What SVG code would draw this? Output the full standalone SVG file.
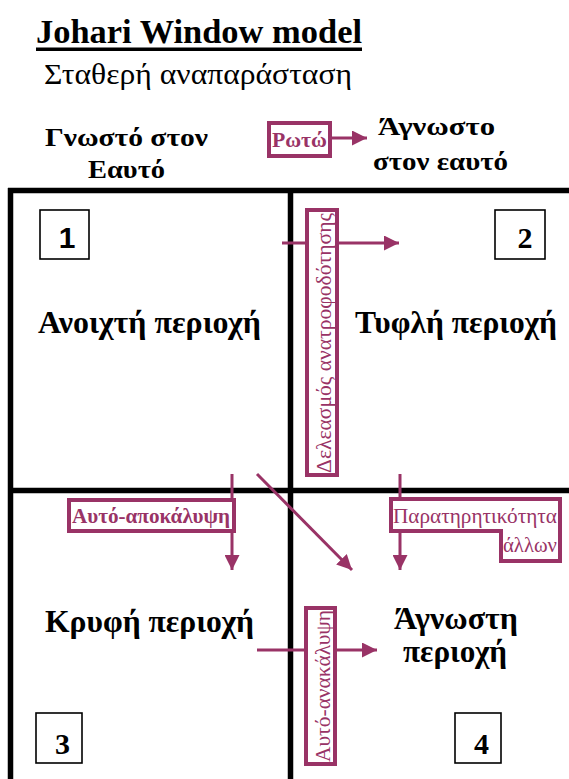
<svg xmlns="http://www.w3.org/2000/svg" width="569" height="779" viewBox="0 0 569 779">
  <defs>
    <marker id="arrow" viewBox="0 0 10 10" refX="10" refY="5" markerWidth="5" markerHeight="5" orient="auto" markerUnits="strokeWidth">
      <path d="M0,0 L10,5 L0,10 Z" fill="#993366"/>
    </marker>
    <style>
      text { font-family: 'Liberation Serif', 'Times New Roman', serif; }
      .sans { font-family: 'Liberation Sans', Arial, sans-serif; }
      .head { font-weight: bold; font-size: 26px; fill: #000; }
      .area { font-weight: bold; font-size: 31px; fill: #000; }
      .grid { stroke: #000; stroke-width: 5.5; fill: none; }
      .num { fill: #fff; stroke: #000; stroke-width: 1.6; }
      .numtxt { font-weight: bold; font-size: 30px; fill: #000; text-anchor: middle; }
      .tag { fill: #fff; stroke: #993366; stroke-width: 4; }
      .tagtxt { font-size: 21px; fill: #993366; }
      .link { stroke: #993366; stroke-width: 3; fill: none; marker-end: url(#arrow); }
    </style>
  </defs>
  <rect width="569" height="779" fill="#fff"/>

  <!-- title -->
  <g id="title">
    <text x="36" y="43" font-size="34" font-weight="bold" fill="#000" textLength="326" lengthAdjust="spacingAndGlyphs">Johari Window model</text>
    <rect x="36" y="47.5" width="326" height="3.5" fill="#000"/>
    <text x="44" y="84" font-size="30" fill="#000" textLength="308" lengthAdjust="spacingAndGlyphs">Σταθερή αναπαράσταση</text>
  </g>

  <!-- column headings -->
  <g id="head-known">
    <text class="head" x="45" y="145.5" textLength="163" lengthAdjust="spacingAndGlyphs">Γνωστό στον</text>
    <text class="head" x="88" y="178" textLength="77" lengthAdjust="spacingAndGlyphs">Εαυτό</text>
  </g>
  <g id="head-unknown">
    <text class="head" x="378" y="135" textLength="117" lengthAdjust="spacingAndGlyphs">Άγνωστο</text>
    <text class="head" x="373" y="170" textLength="135" lengthAdjust="spacingAndGlyphs">στον εαυτό</text>
  </g>

  <!-- window grid -->
  <g id="grid">
    <path class="grid" d="M8,190.5 H569 M8,490.5 H569 M10.5,188 V779 M290.5,188 V779"/>
  </g>

  <!-- quadrants -->
  <g id="q1">
    <rect class="num" x="40" y="210" width="49" height="49"/>
    <text class="numtxt sans" x="67" y="248" font-size="23">1</text>
    <text class="area" x="38" y="333" textLength="223" lengthAdjust="spacingAndGlyphs">Ανοιχτή περιοχή</text>
  </g>
  <g id="q2">
    <rect class="num" x="495" y="210" width="50" height="49"/>
    <text class="numtxt" x="525" y="248">2</text>
    <text class="area" x="355" y="333" textLength="202" lengthAdjust="spacingAndGlyphs">Τυφλή περιοχή</text>
  </g>
  <g id="q3">
    <rect class="num" x="36" y="713" width="46" height="50"/>
    <text class="numtxt" x="62.5" y="754">3</text>
    <text class="area" x="45" y="632" textLength="209" lengthAdjust="spacingAndGlyphs">Κρυφή περιοχή</text>
  </g>
  <g id="q4">
    <rect class="num" x="455" y="713" width="46" height="50"/>
    <text class="numtxt" x="481.5" y="754">4</text>
    <text class="area" x="394" y="629" textLength="124" lengthAdjust="spacingAndGlyphs">Άγνωστη</text>
    <text class="area" x="403" y="662" textLength="104" lengthAdjust="spacingAndGlyphs">περιοχή</text>
  </g>

  <!-- connectors -->
  <g id="connectors">
    <line class="link" x1="330" y1="138" x2="367" y2="138"/>
    <line class="link" x1="282" y1="243" x2="399" y2="243"/>
    <line class="link" x1="232" y1="474" x2="232" y2="570"/>
    <line class="link" x1="257" y1="474" x2="352" y2="570"/>
    <line class="link" x1="400" y1="474" x2="400" y2="570"/>
    <line class="link" x1="257" y1="650" x2="377" y2="650"/>
  </g>

  <!-- process labels -->
  <g id="label-ask">
    <rect class="tag" x="269" y="123" width="61" height="33"/>
    <text class="tagtxt" x="272" y="147" font-weight="bold" textLength="55" lengthAdjust="spacingAndGlyphs">Ρωτώ</text>
  </g>
  <g id="label-feedback">
    <rect class="tag" x="307" y="210" width="30" height="265"/>
    <text class="tagtxt" font-size="20" transform="translate(331,473) rotate(-90)" textLength="260" lengthAdjust="spacingAndGlyphs">Δελεασμός ανατροφοδότησης</text>
  </g>
  <g id="label-disclosure">
    <rect class="tag" x="69" y="500" width="165" height="31"/>
    <text class="tagtxt" x="72" y="523" font-weight="bold" textLength="158" lengthAdjust="spacingAndGlyphs">Αυτό-αποκάλυψη</text>
  </g>
  <g id="label-observation">
    <path class="tag" d="M391,499 H560 V561 H501 V531 H391 Z"/>
    <text class="tagtxt" x="393" y="523" textLength="164" lengthAdjust="spacingAndGlyphs">Παρατηρητικότητα</text>
    <text class="tagtxt" x="503" y="552" textLength="54" lengthAdjust="spacingAndGlyphs">άλλων</text>
  </g>
  <g id="label-discovery">
    <rect class="tag" x="306" y="608" width="29" height="156"/>
    <text class="tagtxt" font-size="20" transform="translate(330,762) rotate(-90)" textLength="152" lengthAdjust="spacingAndGlyphs">Αυτό-ανακάλυψη</text>
  </g>
</svg>
